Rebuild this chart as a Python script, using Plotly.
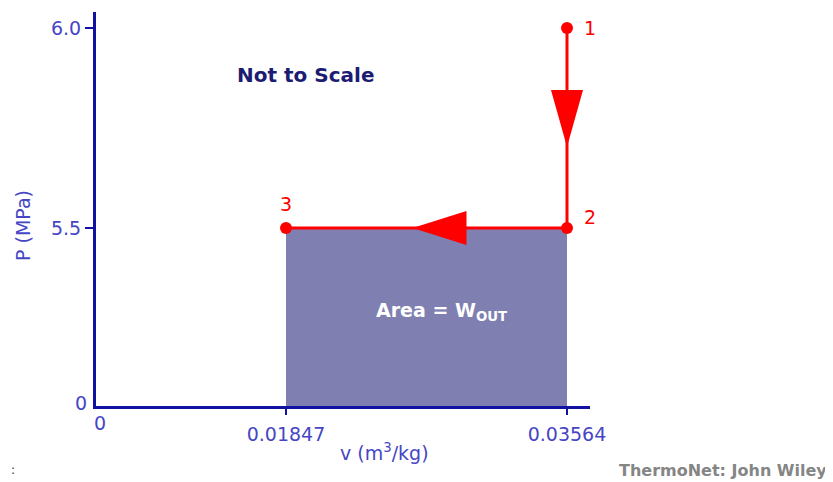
import numpy as np
import plotly.graph_objects as go

# ---- data ----
states = ["1", "2", "3"]
v_vals = [0.03564, 0.03564, 0.01847]      # m3/kg
p_vals = [6.0, 5.5, 5.5]                  # MPa
v_ticks = [0.0, 0.01847, 0.03564]
v_ticktext = ["0", "0.01847", "0.03564"]
p_ticks = [0.0, 5.5, 6.0]
p_ticktext = ["0", "5.5", "6.0"]

# ---- "not to scale" display scale (piecewise linear) ----
X_POS = [0, 190, 471]
Y_POS = [0, 178, 378]
def sx(v):
    return np.interp(v, v_ticks, X_POS)
def sy(p):
    return np.interp(p, p_ticks, Y_POS)

AXIS = "#1212a2"
TXT = "#4646c4"
RED = "#ff0000"
FONT = "DejaVu Sans"

xs = sx(v_vals)
ys = sy(p_vals)

fig = go.Figure()

# area under process 2-3 (work output)
fig.add_trace(go.Scatter(
    x=[xs[2], xs[1], xs[1], xs[2]],
    y=[ys[2], ys[1], sy(0), sy(0)],
    fill="toself", fillcolor="#7f7fb1", mode="lines",
    line=dict(width=0), hoverinfo="skip", showlegend=False))

# process path 1-2-3
fig.add_trace(go.Scatter(
    x=xs, y=ys, mode="lines+markers",
    line=dict(color=RED, width=3),
    marker=dict(color=RED, size=12),
    showlegend=False, cliponaxis=False, hoverinfo="skip"))

# direction arrows (pixel-sized shapes anchored on the path)
mid12 = ((xs[0] + xs[1]) / 2, (ys[0] + ys[1]) / 2)
mid23 = ((xs[1] + xs[2]) / 2, (ys[1] + ys[2]) / 2)
fig.add_shape(type="path", xref="x", yref="y",
              xsizemode="pixel", ysizemode="pixel",
              xanchor=mid12[0], yanchor=mid12[1],
              path="M -16 38 L 16 38 L 0 -19 Z",
              fillcolor=RED, line=dict(width=0))
fig.add_shape(type="path", xref="x", yref="y",
              xsizemode="pixel", ysizemode="pixel",
              xanchor=mid23[0], yanchor=mid23[1],
              path="M -14 0 L 40 17 L 40 -17 Z",
              fillcolor=RED, line=dict(width=0))

TICKFONT = dict(color=TXT, size=19, family=FONT)
fig.update_xaxes(range=[0, 494], showline=True, linecolor=AXIS, linewidth=3,
                 tickmode="array", tickvals=sx(v_ticks[1:]), ticktext=v_ticktext[1:],
                 ticks="outside", ticklen=6, tickwidth=2, tickcolor=AXIS,
                 tickfont=TICKFONT, ticklabelstandoff=3,
                 showgrid=False, zeroline=False, fixedrange=True)
fig.update_yaxes(range=[0, 394], showline=True, linecolor=AXIS, linewidth=3,
                 tickmode="array", tickvals=sy(p_ticks[1:]), ticktext=p_ticktext[1:],
                 ticks="outside", ticklen=8, tickwidth=2, tickcolor=AXIS,
                 tickfont=TICKFONT,
                 showgrid=False, zeroline=False, fixedrange=True)

ann = []
# state labels
label_shift = [(23, 0), (23, 11), (0, 24)]
for s, x, y, (dx, dy) in zip(states, xs, ys, label_shift):
    ann.append(dict(x=x, y=y, xref="x", yref="y", text=s, xshift=dx, yshift=dy,
                    xanchor="center", yanchor="middle",
                    font=dict(color=RED, size=19, family=FONT)))
# zero labels
ann.append(dict(x=sx(0), y=sy(0), xref="x", yref="y", text=p_ticktext[0],
                xanchor="right", yanchor="middle", xshift=-7, yshift=3, font=TICKFONT))
ann.append(dict(x=sx(0), y=sy(0), xref="x", yref="y", text=v_ticktext[0],
                xanchor="center", yanchor="top", xshift=4, yshift=-4, font=TICKFONT))

# free text placed at reference page pixel positions
free = [
    dict(x=384, y=452, text="v (m<sup>3</sup>/kg)", font=TICKFONT),
    dict(x=23, y=226, text="P (MPa)", textangle=-90, font=TICKFONT),
    dict(x=305, y=75, text="<b>Not to Scale</b>",
         font=dict(color="#1c1c72", size=20, family=FONT)),
    dict(x=441, y=311, text="<b>Area = W<sub>OUT</sub></b>",
         font=dict(color="white", size=19, family=FONT)),
    dict(x=829, y=470, text="<b>ThermoNet: John Wiley</b>", xanchor="right",
         font=dict(color="#858585", size=16, family=FONT)),
    dict(x=9, y=470, text=":", xanchor="left",
         font=dict(color="#333333", size=12, family=FONT)),
]
OFF = 8  # page body margin
W, H = 833 - OFF, 482 - OFF
L, T, PW, PH = 96 - OFF, 12 - OFF, 494, 394
B = H - T - PH
for a in free:
    px, py = a["x"] - OFF, a["y"] - OFF
    a["x"] = (px - L) / PW
    a["y"] = (H - py - B) / PH
    a["xref"] = "paper"
    a["yref"] = "paper"
    a.setdefault("xanchor", "center")
    a.setdefault("yanchor", "middle")
    ann.append(a)
for a in ann:
    a["showarrow"] = False

fig.update_layout(
    width=W, height=H, autosize=False,
    margin=dict(l=L, r=W - L - PW, t=T, b=B),
    plot_bgcolor="white", paper_bgcolor="white",
    annotations=ann, showlegend=False,
    font=dict(family=FONT),
)

fig.write_html("out.html", config={"displayModeBar": False})
